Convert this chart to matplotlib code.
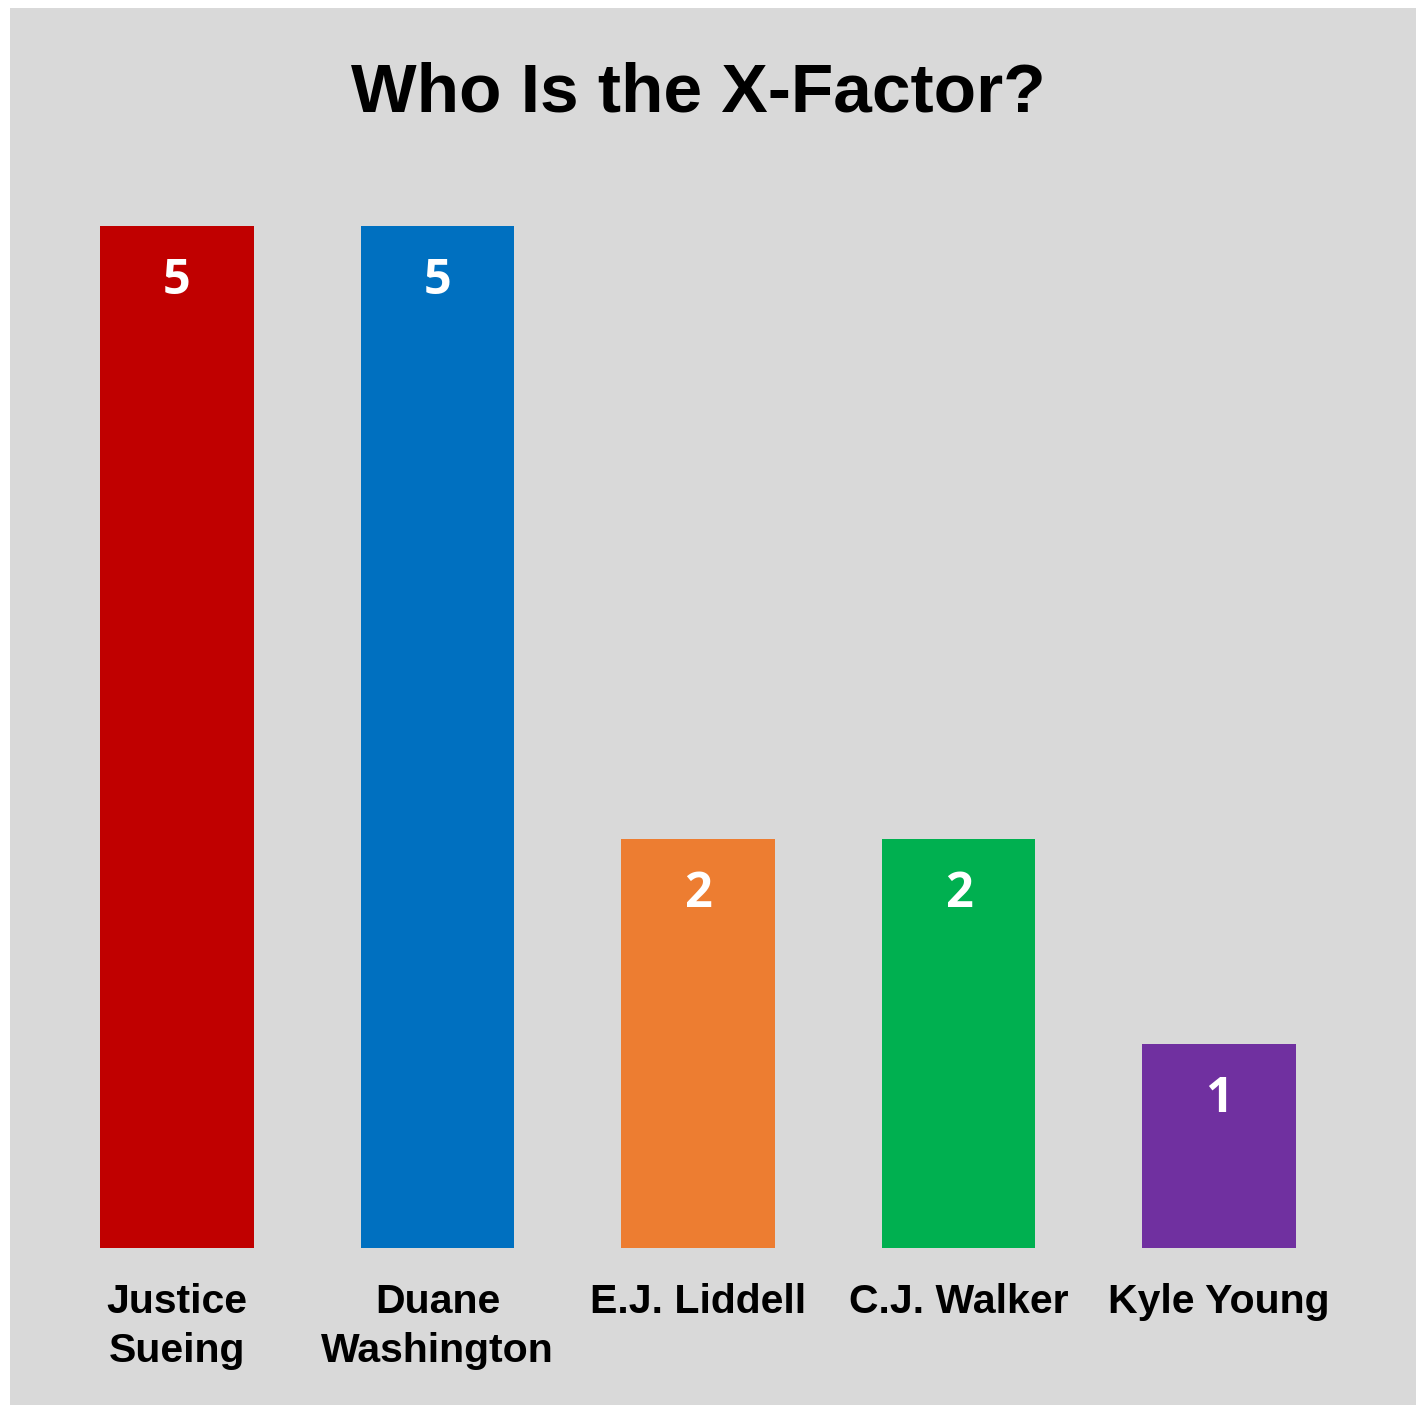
import matplotlib
matplotlib.use("Agg")
import matplotlib.pyplot as plt
from matplotlib.patches import Rectangle

players = ["Justice\nSueing", "Duane\nWashington", "E.J. Liddell", "C.J. Walker", "Kyle Young"]
votes = [5, 5, 2, 2, 1]
bar_colors = ["#C00000", "#0070C0", "#ED7D31", "#00B050", "#7030A0"]

W, H = 1420, 1405
fig = plt.figure(figsize=(W / 100, H / 100), dpi=100, facecolor="white")

# grey panel with a thin white margin on the left/top/right
fig.patches.append(Rectangle((10 / W, 0), 1406 / W, (H - 8) / H,
                             transform=fig.transFigure, facecolor="#D9D9D9",
                             edgecolor="none", zorder=-10))

ax = fig.add_axes([46.75 / W, (H - 1248) / H, 1302.5 / W, 1022 / H])
ax.set_facecolor("none")
ax.set_zorder(1)

x = range(len(players))
bars = ax.bar(x, votes, width=0.59, color=bar_colors)

for xi, v in zip(x, votes):
    ax.annotate(str(v), xy=(xi, v), xytext=(0, -40), textcoords="offset points",
                ha="center", va="center", color="white", fontsize=35,
                fontweight="bold", family="Open Sans")

ax.set_xlim(-0.5, 4.5)
ax.set_ylim(0, 5)
ax.set_xticks(list(x))
ax.set_xticklabels(players, fontsize=29.5, fontweight="bold", family="Liberation Sans",
                   linespacing=1.38)
ax.tick_params(axis="x", length=0, pad=25)
ax.set_yticks([])
for s in ax.spines.values():
    s.set_visible(False)

fig.text(698 / W, 1 - 112 / H, "Who Is the X-Factor?", ha="center", va="baseline",
         fontsize=50, fontweight="bold", family="Liberation Sans")

fig.savefig("out.png", dpi=100, facecolor="white")
